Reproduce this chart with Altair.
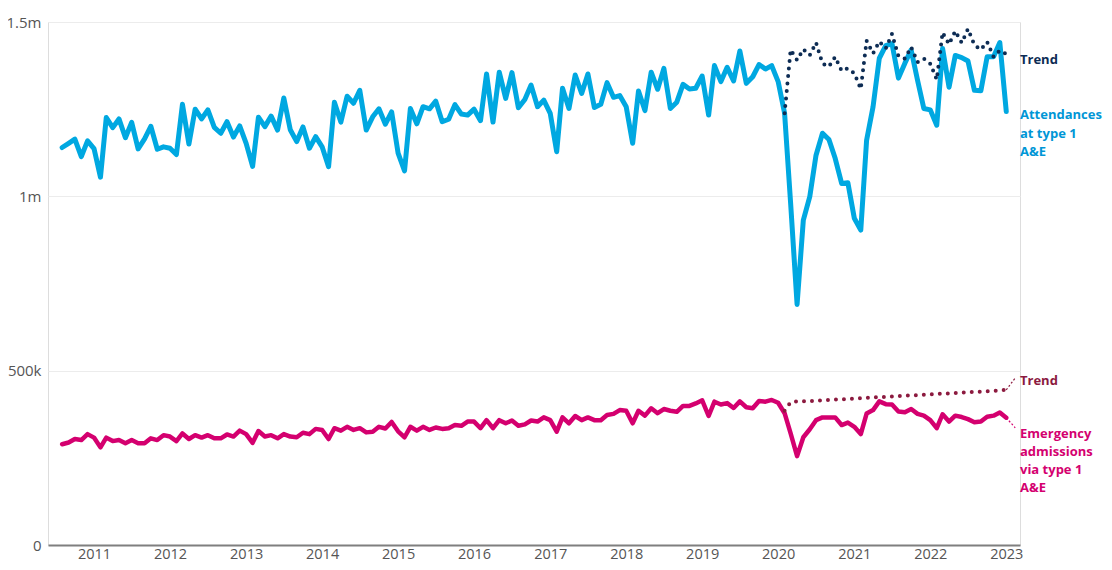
import altair as alt
import pandas as pd

# Monthly values, Aug 2010 - Jan 2023 (thousands)
attendances = [
    1140, 1152, 1164, 1114, 1159, 1137, 1055, 1226, 1197, 1222, 1168, 1212,
    1136, 1165, 1201, 1135, 1142, 1138, 1120, 1264, 1150, 1250, 1222, 1248,
    1198, 1181, 1214, 1170, 1202, 1152, 1086, 1227, 1200, 1230, 1190, 1282,
    1191, 1157, 1199, 1138, 1171, 1142, 1085, 1270, 1213, 1287, 1267, 1304,
    1190, 1228, 1251, 1207, 1242, 1124, 1073, 1252, 1208, 1257, 1251, 1273,
    1214, 1221, 1263, 1236, 1233, 1250, 1217, 1351, 1213, 1356, 1281, 1355,
    1254, 1278, 1319, 1257, 1276, 1238, 1128, 1310, 1252, 1348, 1295, 1351,
    1255, 1264, 1326, 1284, 1289, 1257, 1152, 1302, 1246, 1356, 1307, 1367,
    1252, 1270, 1321, 1308, 1310, 1345, 1233, 1375, 1329, 1370, 1331, 1417,
    1324, 1343, 1378, 1365, 1375, 1329, 1238, 980, 690, 932, 999, 1118,
    1181, 1163, 1109, 1037, 1039, 937, 903, 1161, 1257, 1396, 1432, 1438,
    1339, 1382, 1420, 1332, 1252, 1248, 1204, 1424, 1313, 1404, 1398, 1388,
    1304, 1303, 1400, 1400, 1441, 1243,
]
admissions = [
    289, 294, 304, 301, 318, 308, 280, 308, 298, 301, 292, 301,
    292, 292, 306, 301, 315, 311, 298, 320, 304, 315, 308, 315,
    306, 306, 317, 311, 328, 318, 293, 327, 311, 315, 306, 318,
    311, 309, 322, 318, 333, 330, 304, 335, 328, 339, 330, 335,
    323, 325, 339, 334, 353, 326, 309, 339, 328, 339, 330, 337,
    333, 335, 344, 342, 354, 354, 335, 358, 335, 358, 349, 357,
    342, 346, 357, 354, 366, 358, 325, 366, 349, 370, 358, 366,
    358, 358, 373, 376, 387, 385, 349, 385, 371, 392, 378, 390,
    385, 382, 399, 399, 406, 415, 370, 411, 403, 407, 393, 412,
    395, 392, 413, 411, 416, 408, 378, 320, 255, 309, 332, 358,
    366, 366, 366, 344, 351, 339, 318, 377, 387, 412, 404, 403,
    383, 381, 390, 376, 371, 358, 335, 375, 354, 371, 367, 361,
    352, 354, 368, 371, 380, 365,
]
# Trends, Feb 2020 - Jan 2023 (thousands)
attendance_trend = [
    1238, 1420, 1391, 1422, 1405, 1441, 1381, 1372, 1400, 1360, 1367, 1353,
    1308, 1446, 1410, 1444, 1424, 1466, 1402, 1395, 1428, 1385, 1395, 1380,
    1335, 1470, 1436, 1474, 1440, 1480, 1434, 1421, 1443, 1400, 1418, 1408,
]
admissions_trend = [
    385, 410, 412, 412, 413, 414, 415, 416, 417, 418, 419, 420,
    421, 422, 423, 424, 425, 426, 427, 428, 429, 430, 431, 432,
    433, 434, 435, 436, 437, 438, 439, 440, 441, 442, 443, 445,
]
year_ticks = list(range(2011, 2024))
y_ticks = [0, 500000, 1000000, 1500000]

months = pd.date_range("2010-08-01", periods=len(attendances), freq="MS")
trend_months = months[len(months) - len(attendance_trend):]

main = pd.DataFrame({
    "date": months,
    "att": [v * 1000 for v in attendances],
    "adm": [v * 1000 for v in admissions],
})
trend = pd.DataFrame({
    "date": trend_months,
    "att": [v * 1000 for v in attendance_trend],
    "adm": [v * 1000 for v in admissions_trend],
})

BLUE = "#00a8e1"
NAVY = "#0d2c54"
MAGENTA = "#d4006f"
DARKRED = "#8c1a3f"
FONT = "Open Sans"

x_enc = alt.X(
    "date:T",
    scale=alt.Scale(domain=[alt.DateTime(year=2010, month=5, date=25),
                            alt.DateTime(year=2023, month=3, date=8)]),
    axis=alt.Axis(
        values=[alt.DateTime(year=y, month=1, date=1) for y in year_ticks],
        format="%Y", title=None, grid=False, ticks=False,
        domainColor="#7f7f7f", domainWidth=2,
        labelFont=FONT, labelFontSize=14.5, labelColor="#555555",
        labelPadding=2,
    ),
)

def y_enc(field):
    return alt.Y(
        f"{field}:Q",
        scale=alt.Scale(domain=[0, 1500000], nice=False),
        axis=alt.Axis(
            values=y_ticks, title=None, domain=False, ticks=False,
            gridColor="#ececec", gridWidth=1,
            labelFont=FONT, labelFontSize=15, labelColor="#555555",
            labelPadding=7,
            labelExpr="datum.value == 0 ? '0' : (datum.value >= 1000000 ? format(datum.value/1000000, '~g') + 'm' : format(datum.value/1000, '~g') + 'k')",
        ),
    )

att_line = alt.Chart(main).mark_line(
    color=BLUE, strokeWidth=5, strokeJoin="round", strokeCap="round"
).encode(x=x_enc, y=y_enc("att"))

adm_line = alt.Chart(main).mark_line(
    color=MAGENTA, strokeWidth=4.5, strokeJoin="round", strokeCap="round"
).encode(x=x_enc, y=y_enc("adm"))

att_trend_line = alt.Chart(trend).mark_line(
    color=NAVY, strokeWidth=4, strokeDash=[0, 7.5], strokeCap="round"
).encode(x=x_enc, y=y_enc("att"))

adm_trend_line = alt.Chart(trend).mark_line(
    color=DARKRED, strokeWidth=4, strokeDash=[0, 8], strokeCap="round"
).encode(x=x_enc, y=y_enc("adm"))

# leader lines from series ends to labels
leaders = pd.DataFrame({
    "date": [months[-1], pd.Timestamp("2023-02-13"), months[-1], pd.Timestamp("2023-02-13")],
    "val": [admissions_trend[-1] * 1000, 479000, admissions[-1] * 1000, 336000],
    "grp": ["t", "t", "a", "a"],
})
leader_t = alt.Chart(leaders[leaders.grp == "t"]).mark_line(
    color=DARKRED, strokeWidth=1.2, strokeDash=[2, 2]
).encode(x=x_enc, y=y_enc("val"))
leader_a = alt.Chart(leaders[leaders.grp == "a"]).mark_line(
    color=MAGENTA, strokeWidth=1.2, strokeDash=[2, 2]
).encode(x=x_enc, y=y_enc("val"))

labels = pd.DataFrame({
    "text": ["Trend", "Attendances", "at type 1", "A&E",
             "Trend", "Emergency", "admissions", "via type 1", "A&E"],
    "ypix": [38, 93, 112, 130, 359, 412, 430, 448, 466],
    "color": [NAVY, "#0096d6", "#0096d6", "#0096d6",
              DARKRED, MAGENTA, MAGENTA, MAGENTA, MAGENTA],
})
label_layer = alt.Chart(labels).mark_text(
    align="left", baseline="middle", font=FONT, fontSize=13, fontWeight="bold"
).encode(
    x=alt.value(972),
    y=alt.Y("ypix:Q", scale=None),
    text="text:N",
    color=alt.Color("color:N", scale=None),
)

chart = alt.layer(
    att_line, adm_line, att_trend_line, adm_trend_line, leader_t, leader_a, label_layer
).properties(
    width=972, height=523,
    padding={"left": 40, "top": 14, "right": 84, "bottom": 17},
    autosize=alt.AutoSizeParams(type="none"),
).configure_view(stroke=None).configure(background="white")

chart.save("out.html", embed_options={"renderer": "svg", "actions": False})
